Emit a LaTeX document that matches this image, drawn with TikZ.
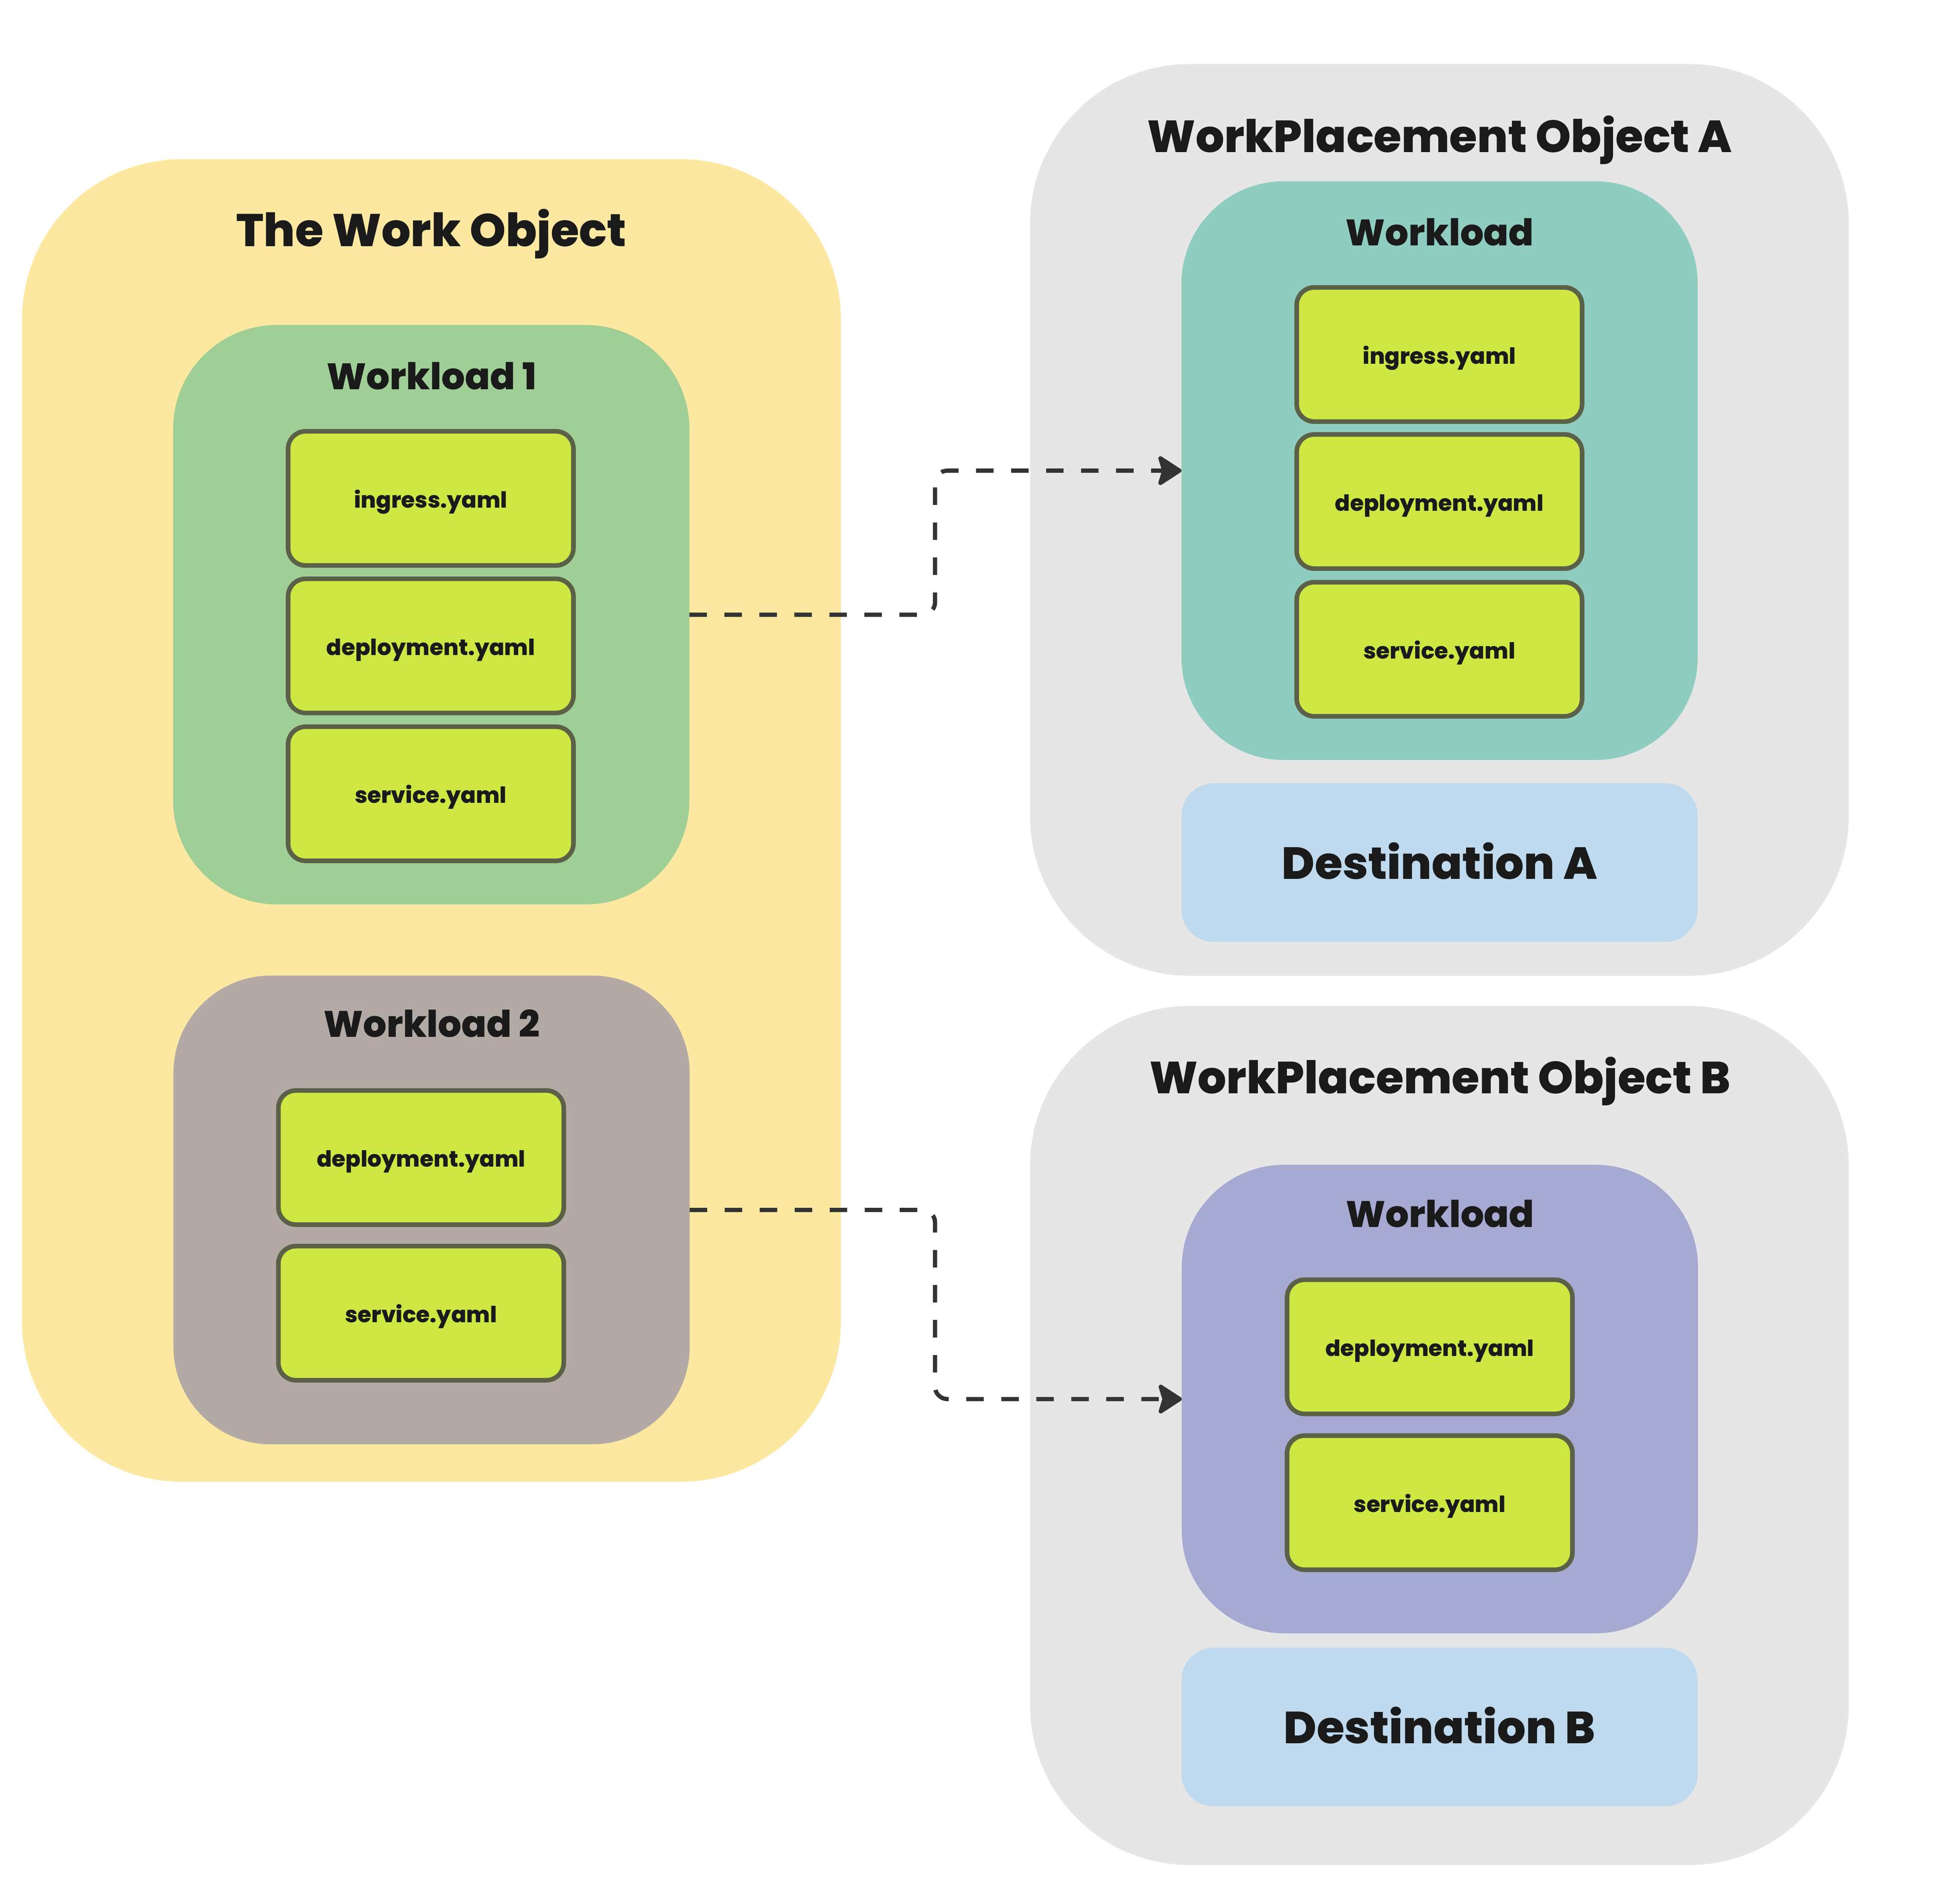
\documentclass[tikz,border=0pt]{standalone}
\usepackage{fontspec}
\setmainfont{Poppins}[BoldFont={Poppins ExtraBold}]
\usetikzlibrary{arrows.meta}
\definecolor{cyellow}{HTML}{FCE8A0}
\definecolor{cgreen}{HTML}{9FCF97}
\definecolor{cbrown}{HTML}{B3AAA6}
\definecolor{cgray}{HTML}{E6E6E6}
\definecolor{cteal}{HTML}{8FCDC1}
\definecolor{cpurple}{HTML}{A6A9D1}
\definecolor{cblue}{HTML}{BFDAEE}
\definecolor{cfile}{HTML}{CFE743}
\definecolor{cborder}{HTML}{5B6147}
\definecolor{ctext}{HTML}{1A1A1A}
\definecolor{carrow}{HTML}{333333}
\begin{document}
\begin{tikzpicture}[x=1pt,y=-1pt,
  box/.style={rectangle, inner sep=0pt, outer sep=0pt, draw=none},
  outerbox/.style={box, rounded corners=128pt, minimum width=655pt},
  wlbox/.style={box, rounded corners=82pt, minimum width=413pt},
  destbox/.style={box, fill=cblue, rounded corners=26pt, minimum width=413pt, minimum height=127pt,
    font=\fontsize{36}{42}\selectfont\bfseries, text=ctext, text height=26.5pt, text depth=0pt},
  file/.style={rectangle, rounded corners=14pt, fill=cfile, draw=cborder, line width=3.7pt,
    minimum width=228.3pt, minimum height=107.3pt, inner sep=0pt,
    font=\fontsize{17.8}{22}\selectfont\bfseries, text=ctext, text height=15pt, text depth=0pt},
  ttl/.style={font=\fontsize{36.7}{43}\selectfont\bfseries, text=ctext, anchor=base, inner sep=0pt},
  ttlw/.style={ttl, font=\fontsize{36}{42}\selectfont\bfseries},
  wltl/.style={font=\fontsize{29.5}{35}\selectfont\bfseries, text=ctext, anchor=base, inner sep=0pt},
  conn/.style={draw=carrow, line width=3.4pt, dash pattern=on 14pt off 14pt, rounded corners=10pt,
    -{Stealth[length=21pt, width=27pt, inset=4pt, round]}}
]
\fill[white] (0,0) rectangle (1568,1523);
\useasboundingbox (0,0) rectangle (1568,1523);

% The Work Object
\node[outerbox, fill=cyellow, minimum height=1058pt] (work) at (345.15,656.35) {};
\node[ttl] (worktitle) at (345,197) {The Work Object};

\node[wlbox, fill=cgreen, minimum height=463.5pt, rounded corners=83pt] (w1) at (345,491.75) {};
\node[wltl] (w1title) at (345.3,311.5) {Workload 1};
\node[file] (w1ing) at (344.6,398.7) {ingress.yaml};
\node[file] (w1dep) at (344.6,516.7) {deployment.yaml};
\node[file] (w1svc) at (344.6,635) {service.yaml};

\node[wlbox, fill=cbrown, minimum height=375pt, rounded corners=78pt] (w2) at (345.25,967.9) {};
\node[wltl] (w2title) at (345.3,829.7) {Workload 2};
\node[file] (w2dep) at (336.85,926) {deployment.yaml};
\node[file] (w2svc) at (336.85,1050.5) {service.yaml};

% WorkPlacement Object A
\node[outerbox, fill=cgray, minimum height=729.4pt] (wpa) at (1151.5,415.9) {};
\node[ttlw] (wpatitle) at (1151.7,121.7) {WorkPlacement Object A};
\node[wlbox, fill=cteal, minimum height=463pt] (wla) at (1151.65,376.5) {};
\node[wltl] (wlatitle) at (1151.7,196.6) {Workload};
\node[file] (aing) at (1151.5,283.6) {ingress.yaml};
\node[file] (adep) at (1151.5,401.2) {deployment.yaml};
\node[file] (asvc) at (1151.5,519.4) {service.yaml};
\node[destbox] (desta) at (1151.65,690.05) {Destination A};

% WorkPlacement Object B
\node[outerbox, fill=cgray, minimum height=687.3pt] (wpb) at (1151.5,1148.35) {};
\node[ttlw] (wpbtitle) at (1152,874.7) {WorkPlacement Object B};
\node[wlbox, fill=cpurple, minimum height=374.8pt] (wlb) at (1151.9,1119.2) {};
\node[wltl] (wlbtitle) at (1152,981.8) {Workload};
\node[file] (bdep) at (1143.8,1077.4) {deployment.yaml};
\node[file] (bsvc) at (1143.8,1202.1) {service.yaml};
\node[destbox] (destb) at (1151.65,1381.6) {Destination B};

% connectors
\coordinate (m1) at (748,0);
\draw[conn] (w1.east) -| (m1 |- wla.west) -- (wla.west);
\draw[conn] (w2.east) -| (m1 |- wlb.west) -- (wlb.west);
\end{tikzpicture}
\end{document}
